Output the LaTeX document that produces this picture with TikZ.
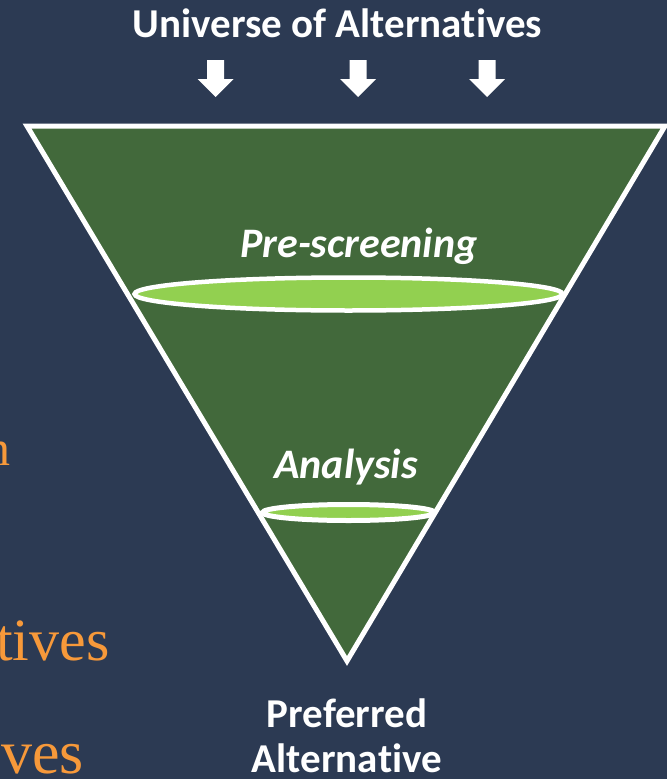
\documentclass[tikz,border=0pt]{standalone}
\usepackage{fontspec}
\setmainfont{Carlito}[RawFeature={-liga;-clig;-calt;-dlig}]
\newfontfamily\serifface{Liberation Serif}
\newcommand{\nolg}{\kern0pt }
\definecolor{bgnavy}{HTML}{2C3A53}
\definecolor{funnelgreen}{HTML}{42693B}
\definecolor{discgreen}{HTML}{92D050}
\definecolor{leftorange}{HTML}{F7993A}
\tikzset{
  lbl/.style={text=white, font=\fontsize{41}{45}\selectfont\bfseries, inner sep=0pt, anchor=base},
  ilbl/.style={lbl, font=\fontsize{42}{46}\selectfont\bfseries\itshape},
  orangetxt/.style={text=leftorange, inner sep=0pt, anchor=base west},
  disc/.style={fill=discgreen, draw=white, line width=4.5pt},
}
\begin{document}
\begin{tikzpicture}[x=1pt,y=-1pt]
\useasboundingbox (0,0) rectangle (667,779);
\clip (0,0) rectangle (667,779);
\fill[bgnavy] (0,0) rectangle (667,779);
% funnel
\draw[fill=funnelgreen, draw=white, line width=5pt, line join=miter]
  (27,126) -- (665,126) -- (347,661) -- cycle;
% discs
\draw[disc] (348.5,294) ellipse [x radius=214, y radius=16.5];
\draw[disc, line width=5pt] (348.5,512.5) ellipse [x radius=86, y radius=8];
% arrows
\foreach \cx in {215.5,358,487}{
  \fill[white] (\cx-8.5,60) -- (\cx+8.5,60) -- (\cx+8.5,79) -- (\cx+18,79)
    -- (\cx,97) -- (\cx-18,79) -- (\cx-8.5,79) -- cycle;
}
% labels
\node[lbl] (univ) at (337.5,37) {Universe of Alterna\nolg tives};
\node[ilbl] (pre) at (359,257) {Pre-screening};
\node[ilbl] (ana) at (346,478) {Analysis};
\node[lbl] (pref) at (347,727) {Preferred};
\node[lbl] (alt) at (347,772) {Alterna\nolg tive};
% cut-off orange text at the left
\node[orangetxt, font=\serifface\fontsize{50}{54}\selectfont] (o1) at (-15,465) {n};
\node[orangetxt, font=\serifface\fontsize{60}{64}\selectfont] (o2) at (-4,660) {tives};
\node[orangetxt, font=\serifface\fontsize{62}{66}\selectfont] (o3) at (1,773) {ves};
\end{tikzpicture}
\end{document}
